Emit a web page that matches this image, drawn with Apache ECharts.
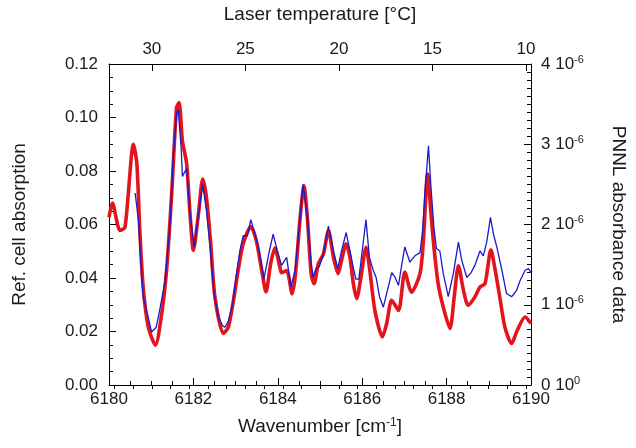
<!DOCTYPE html>
<html>
<head>
<meta charset="utf-8">
<script src="https://cdn.jsdelivr.net/npm/echarts@6/dist/echarts.min.js"></script>
<style>
html,body{margin:0;padding:0;background:#fff;}
#chart{width:636px;height:448px;}
</style>
</head>
<body>
<div id="chart"></div>
<script>
// Reference cell absorption (left axis)
var refWavenumber = [6180.00,6180.08,6180.26,6180.38,6180.58,6180.66,6180.73,6180.81,6180.93,6181.10,6181.25,6181.37,6181.49,6181.60,6181.66,6181.74,6181.84,6181.92,6182.00,6182.12,6182.22,6182.31,6182.41,6182.51,6182.71,6182.83,6182.95,6183.06,6183.18,6183.36,6183.49,6183.62,6183.72,6183.83,6183.93,6184.05,6184.09,6184.21,6184.34,6184.42,6184.53,6184.62,6184.70,6184.79,6184.86,6184.96,6185.08,6185.20,6185.32,6185.43,6185.51,6185.62,6185.71,6185.79,6185.87,6185.97,6186.09,6186.19,6186.30,6186.48,6186.58,6186.70,6186.86,6187.01,6187.17,6187.37,6187.45,6187.55,6187.63,6187.70,6187.80,6187.92,6188.08,6188.18,6188.28,6188.40,6188.51,6188.67,6188.79,6188.91,6189.05,6189.14,6189.26,6189.38,6189.54,6189.66,6189.86,6190.00];
var refAbsorption = [0.0627,0.068,0.0578,0.059,0.090,0.0827,0.0578,0.0366,0.0217,0.0149,0.0268,0.044,0.0727,0.1037,0.1056,0.0913,0.0827,0.064,0.0503,0.064,0.077,0.070,0.0529,0.0329,0.0193,0.0217,0.0317,0.0428,0.0528,0.0592,0.054,0.0428,0.0348,0.0453,0.0512,0.044,0.042,0.0428,0.0341,0.0416,0.0627,0.0745,0.0627,0.0416,0.0379,0.0453,0.049,0.0577,0.0477,0.0416,0.0465,0.0528,0.0477,0.0379,0.0323,0.0403,0.0515,0.0416,0.0279,0.018,0.023,0.0317,0.0279,0.0422,0.0347,0.0416,0.054,0.0789,0.064,0.0515,0.0379,0.0292,0.0211,0.0329,0.0446,0.0354,0.0298,0.0329,0.0366,0.0379,0.0505,0.044,0.0329,0.0217,0.0155,0.0199,0.0254,0.023];

// PNNL absorbance (right axis, units of 1e-6)
var pnnlWavenumber = [6180.62,6180.70,6180.76,6180.81,6180.89,6181.01,6181.12,6181.20,6181.33,6181.45,6181.52,6181.60,6181.64,6181.71,6181.74,6181.84,6181.92,6182.02,6182.12,6182.22,6182.31,6182.39,6182.49,6182.59,6182.69,6182.75,6182.83,6182.93,6183.01,6183.10,6183.18,6183.28,6183.36,6183.46,6183.56,6183.67,6183.80,6183.89,6183.99,6184.09,6184.16,6184.21,6184.31,6184.41,6184.53,6184.60,6184.70,6184.79,6184.84,6184.90,6184.98,6185.08,6185.20,6185.32,6185.42,6185.51,6185.62,6185.71,6185.77,6185.85,6185.92,6186.00,6186.09,6186.17,6186.26,6186.33,6186.41,6186.50,6186.58,6186.70,6186.78,6186.86,6186.94,6187.01,6187.13,6187.25,6187.37,6187.43,6187.49,6187.57,6187.63,6187.70,6187.76,6187.84,6187.92,6188.04,6188.16,6188.28,6188.36,6188.48,6188.58,6188.67,6188.79,6188.87,6188.95,6189.04,6189.11,6189.19,6189.31,6189.42,6189.54,6189.66,6189.74,6189.86,6189.94,6190.00];
var pnnlAbsorbance = [2.39,2.04,1.47,1.10,0.93,0.66,0.72,0.93,1.30,2.04,2.83,3.38,3.43,2.95,2.60,2.70,2.13,1.72,2.13,2.50,2.17,1.76,1.14,0.85,0.74,0.72,0.80,1.01,1.34,1.67,1.86,1.86,2.06,1.88,1.67,1.32,1.67,1.88,1.67,1.49,1.55,1.59,1.22,1.43,2.09,2.50,2.09,1.51,1.34,1.45,1.47,1.63,1.98,1.67,1.45,1.67,1.90,1.67,1.51,1.32,1.32,1.67,2.06,1.59,1.43,1.34,1.10,0.97,1.14,1.40,1.34,1.24,1.51,1.72,1.53,1.61,1.65,1.92,2.42,2.98,2.46,1.96,1.70,1.67,1.39,1.10,1.39,1.78,1.55,1.34,1.40,1.49,1.67,1.61,1.78,2.09,1.88,1.72,1.43,1.14,1.10,1.18,1.30,1.43,1.45,1.40];

// Axis ticks / labels
var temperatureLabels = [10,15,20,25,30];
var temperatureMinorTicks = [10,11,12,13,14,15,16,17,18,19,20,21,22,23,24,25,26,27,28,29,30,31,32];

function zip(a,b){var r=[];for(var i=0;i<a.length;i++)r.push([a[i],b[i]]);return r;}

var FONT = '"Liberation Sans", Arial, sans-serif';
var TXT = '#1a1a1a';
var lineStyle = {color:'#000', width:1};

var chart = echarts.init(document.getElementById('chart'), null, {renderer:'canvas'});
chart.setOption({
  animation:false,
  backgroundColor:'#fff',
  textStyle:{fontFamily:FONT},
  grid:{left:109, right:104, top:63, bottom:63, containLabel:false},
  xAxis:[
    {
      type:'value', position:'bottom', min:6180, max:6190, interval:2,
      axisLine:{show:true, lineStyle:lineStyle, onZero:false},
      axisTick:{show:true, inside:true, length:7, lineStyle:lineStyle},
      minorTick:{show:true, splitNumber:4, length:4, lineStyle:lineStyle},
      splitLine:{show:false},
      axisLabel:{color:TXT, fontSize:17, fontFamily:FONT, margin:6,
        formatter:function(v){return String(v);}},
      name:'Wavenumber [cm{s|-1}]',
      nameLocation:'middle', nameGap:32,
      nameTextStyle:{color:TXT, fontSize:19, fontFamily:FONT,
        rich:{s:{fontSize:12, fontFamily:FONT, color:TXT, verticalAlign:'top', padding:[0,0,8,0]}}}
    },
    {
      type:'value', position:'top', inverse:true, min:9.73, max:32.29,
      axisLine:{show:true, lineStyle:lineStyle, onZero:false},
      axisTick:{show:true, inside:true, length:7, lineStyle:lineStyle, customValues:temperatureLabels},
      splitLine:{show:false},
      axisLabel:{color:TXT, fontSize:17, fontFamily:FONT, margin:6, customValues:temperatureLabels},
      name:'Laser temperature [°C]',
      nameLocation:'middle', nameGap:40,
      nameTextStyle:{color:TXT, fontSize:19, fontFamily:FONT}
    },
    {
      type:'value', position:'top', inverse:true, min:9.73, max:32.29,
      axisLine:{show:false},
      axisTick:{show:true, inside:true, length:4, lineStyle:lineStyle, customValues:temperatureMinorTicks},
      splitLine:{show:false},
      axisLabel:{show:false}
    }
  ],
  yAxis:[
    {
      type:'value', position:'left', min:0, max:0.12, interval:0.02,
      axisLine:{show:true, lineStyle:lineStyle, onZero:false},
      axisTick:{show:true, inside:true, length:7, lineStyle:lineStyle},
      minorTick:{show:true, splitNumber:4, length:4, lineStyle:lineStyle},
      splitLine:{show:false},
      axisLabel:{color:TXT, fontSize:17, fontFamily:FONT, margin:11,
        formatter:function(v){return v.toFixed(2);}},
      name:'Ref. cell absorption',
      nameLocation:'middle', nameGap:80, nameRotate:90,
      nameTextStyle:{color:TXT, fontSize:19, fontFamily:FONT}
    },
    {
      type:'value', position:'right', min:0, max:4, interval:1,
      axisLine:{show:true, lineStyle:lineStyle, onZero:false},
      axisTick:{show:true, inside:true, length:7, lineStyle:lineStyle},
      minorTick:{show:true, splitNumber:10, length:4, lineStyle:lineStyle},
      splitLine:{show:false},
      axisLabel:{color:TXT, fontSize:17, fontFamily:FONT, margin:10,
        formatter:function(v){return '{n|'+v+' 10}{s|'+(v===0?'0':'-6')+'}';},
        rich:{
          n:{fontSize:17, fontFamily:FONT, color:TXT},
          s:{fontSize:11, fontFamily:FONT, color:TXT, verticalAlign:'top', padding:[0,0,9,0]}
        }},
      name:'PNNL absorbance data',
      nameLocation:'middle', nameGap:78, nameRotate:-90,
      nameTextStyle:{color:TXT, fontSize:19, fontFamily:FONT}
    }
  ],
  series:[
    {
      type:'line', name:'Ref. cell', xAxisIndex:0, yAxisIndex:0,
      data:zip(refWavenumber, refAbsorption),
      showSymbol:false, symbol:'none', smooth:0.25,
      lineStyle:{color:'#e3141b', width:3.6}, z:2
    },
    {
      type:'line', name:'PNNL', xAxisIndex:0, yAxisIndex:1,
      data:zip(pnnlWavenumber, pnnlAbsorbance),
      showSymbol:false, symbol:'none', smooth:false,
      lineStyle:{color:'#1a1acc', width:1.3}, z:3
    }
  ]
});
</script>
</body>
</html>
